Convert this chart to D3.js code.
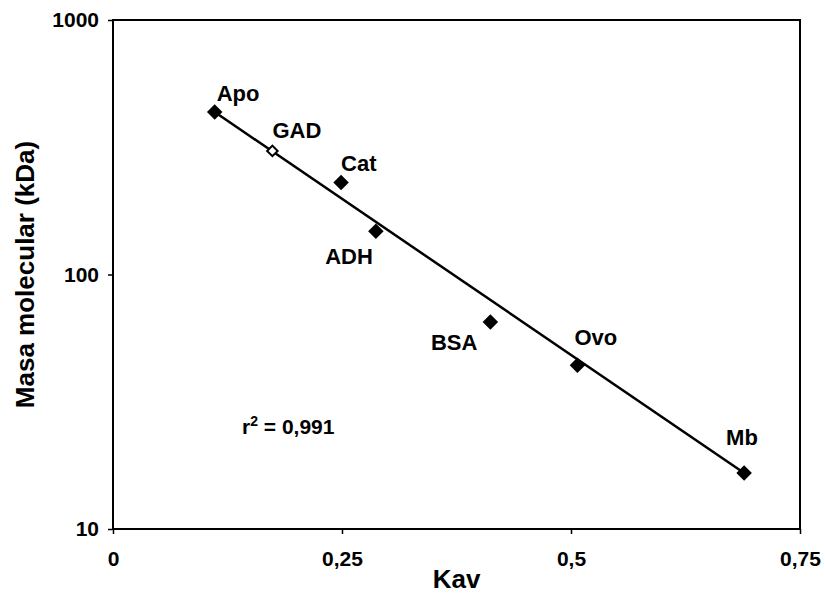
<!DOCTYPE html>
<html>
<head>
<meta charset="utf-8">
<script src="https://cdn.jsdelivr.net/npm/d3@7"></script>
<style>
  body { margin: 0; background: #fff; }
  svg { display: block; font-family: "Liberation Sans", Arial, sans-serif; }
</style>
</head>
<body>
<script>
// Standards (filled markers)
const standards = ["Apo", "Cat", "ADH", "BSA", "Ovo", "Mb"];
const standardKav = [0.111, 0.249, 0.287, 0.412, 0.507, 0.689];
const standardMass = [435, 230, 148, 65, 44, 16.6];

// Sample (hollow marker)
const samples = ["GAD"];
const sampleKav = [0.174];
const sampleMass = [306];

// Fitted line end points
const fitKav = [0.111, 0.689];
const fitMass = [435, 16.6];

// Axis ticks
const xTicks = [0, 0.25, 0.5, 0.75];
const yTicks = [10, 100, 1000];

// Label placement relative to each marker (px)
const labelOffset = {
    Apo: { dx: 2, dy: -11, anchor: "start" },
    GAD: { dx: 0, dy: -13, anchor: "start" },
    Cat: { dx: 0, dy: -11, anchor: "start" },
    ADH: { dx: -3, dy: 33, anchor: "end" },
    BSA: { dx: -13, dy: 28, anchor: "end" },
    Ovo: { dx: -3, dy: -20, anchor: "start" },
    Mb: { dx: -18, dy: -28, anchor: "start" }
};

const width = 825;
const height = 598;
const margin = { top: 20, right: 25, bottom: 69, left: 113 };
const innerWidth = width - margin.left - margin.right;
const innerHeight = height - margin.top - margin.bottom;

const svg = d3.select("body")
    .append("svg")
    .attr("width", width)
    .attr("height", height);

const g = svg.append("g")
    .attr("transform", `translate(${margin.left},${margin.top})`);

const xScale = d3.scaleLinear()
    .domain([0, 0.75])
    .range([0, innerWidth]);

const yScale = d3.scaleLog()
    .domain([10, 1000])
    .range([innerHeight, 0]);

const locale = d3.formatLocale({ decimal: ",", thousands: ".", grouping: [3], currency: ["", "€"] });
const fmt = locale.format("");

// Plot frame
g.append("rect")
    .attr("width", innerWidth)
    .attr("height", innerHeight)
    .attr("fill", "none")
    .attr("stroke", "#000")
    .attr("stroke-width", 2);

// x axis
const xAxis = g.append("g")
    .attr("transform", `translate(0,${innerHeight})`)
    .call(d3.axisBottom(xScale).tickValues(xTicks).tickFormat(d => fmt(d)).tickSize(5).tickPadding(17));

// y axis
const yAxis = g.append("g")
    .call(d3.axisLeft(yScale).tickValues(yTicks).tickFormat(d3.format("d")).tickSize(5).tickPadding(9));

[xAxis, yAxis].forEach(ax => {
    ax.select(".domain").remove();
    ax.selectAll("line").attr("stroke", "#000").attr("stroke-width", 1.5);
    ax.selectAll("text")
        .attr("fill", "#000")
        .style("font-size", "21px")
        .style("font-weight", "bold");
});

// Fitted line
const line = d3.line()
    .x(d => xScale(d[0]))
    .y(d => yScale(d[1]));

g.append("path")
    .datum(d3.zip(fitKav, fitMass))
    .attr("d", line)
    .attr("fill", "none")
    .attr("stroke", "#000")
    .attr("stroke-width", 2.5);

const standardData = standards.map((name, i) => ({ name, kav: standardKav[i], mass: standardMass[i] }));
const sampleData = samples.map((name, i) => ({ name, kav: sampleKav[i], mass: sampleMass[i] }));

// Markers
g.selectAll(".std")
    .data(standardData)
    .enter()
    .append("path")
    .attr("class", "std")
    .attr("d", d3.symbol(d3.symbolSquare, 120))
    .attr("transform", d => `translate(${xScale(d.kav)},${yScale(d.mass)}) rotate(45)`)
    .attr("fill", "#000");

g.selectAll(".smp")
    .data(sampleData)
    .enter()
    .append("path")
    .attr("class", "smp")
    .attr("d", d3.symbol(d3.symbolSquare, 55))
    .attr("transform", d => `translate(${xScale(d.kav)},${yScale(d.mass)}) rotate(45)`)
    .attr("fill", "#fff")
    .attr("stroke", "#000")
    .attr("stroke-width", 2);

// Point labels
g.selectAll(".lbl")
    .data(standardData.concat(sampleData))
    .enter()
    .append("text")
    .attr("class", "lbl")
    .attr("x", d => xScale(d.kav) + labelOffset[d.name].dx)
    .attr("y", d => yScale(d.mass) + labelOffset[d.name].dy)
    .attr("text-anchor", d => labelOffset[d.name].anchor)
    .style("font-size", "22px")
    .style("font-weight", "bold")
    .text(d => d.name);

// r squared
const r2 = g.append("text")
    .attr("x", 242 - margin.left)
    .attr("y", 434 - margin.top)
    .style("font-size", "21px")
    .style("font-weight", "bold");
r2.append("tspan").text("r");
r2.append("tspan").attr("dy", -8).style("font-size", "14px").text("2");
r2.append("tspan").attr("dy", 8).text(" = 0,991");

// Axis titles
svg.append("text")
    .attr("x", margin.left + innerWidth / 2)
    .attr("y", 588)
    .attr("text-anchor", "middle")
    .style("font-size", "26px")
    .style("font-weight", "bold")
    .text("Kav");

svg.append("text")
    .attr("transform", `translate(34,${margin.top + innerHeight / 2}) rotate(-90)`)
    .attr("text-anchor", "middle")
    .style("font-size", "26px")
    .style("font-weight", "bold")
    .text("Masa molecular (kDa)");
</script>
</body>
</html>
